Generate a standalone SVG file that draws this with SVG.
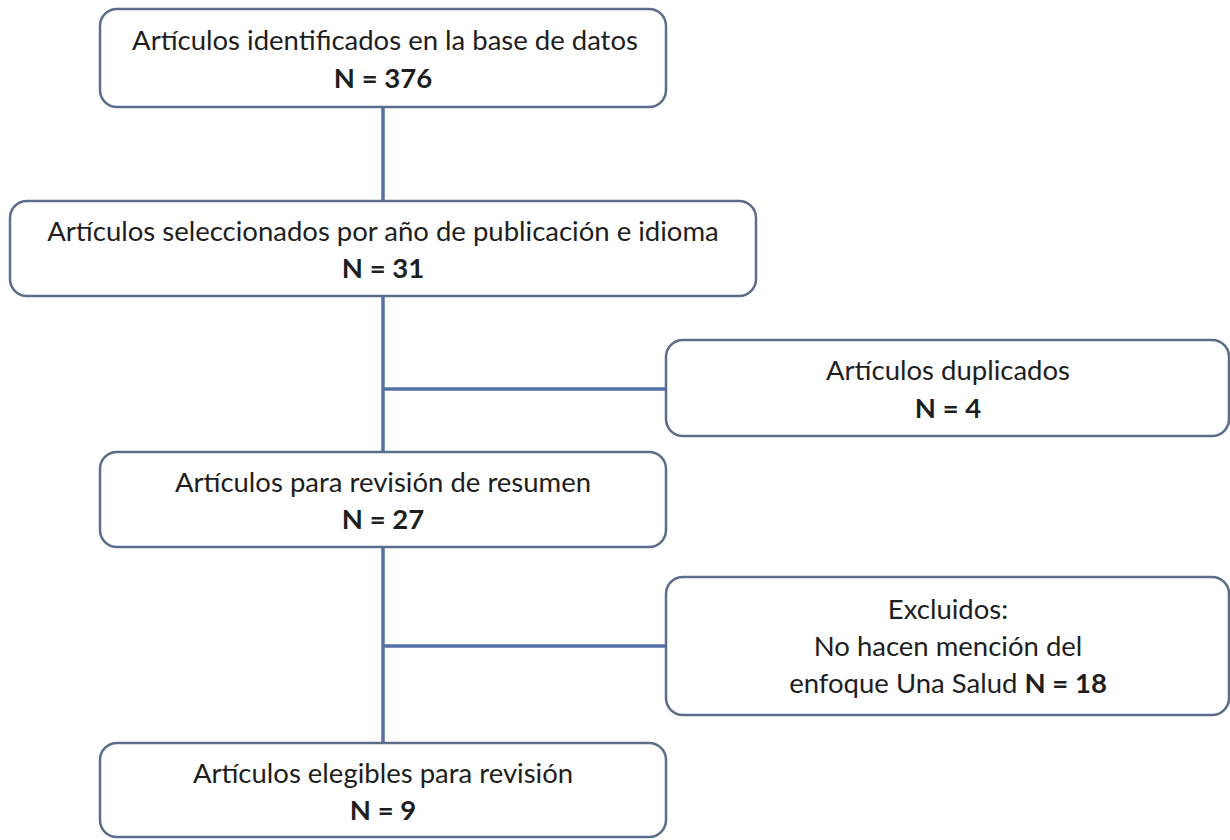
<svg xmlns="http://www.w3.org/2000/svg" width="1230" height="840" viewBox="0 0 1230 840">
<style>
.box{fill:#ffffff;stroke:#5b6d88;stroke-width:2.5}
.conn{stroke:#5470a6;stroke-width:3.5;fill:none}
text{font-family:Lato,"Open Sans","Liberation Sans",sans-serif;font-size:27.5px;fill:#1e1e1e;text-anchor:middle}
.b{font-weight:bold}
</style>
<rect width="1230" height="840" fill="#ffffff"/>
<g id="connectors">
<line class="conn" x1="383" y1="107" x2="383" y2="743"/>
<line class="conn" x1="383" y1="389" x2="666" y2="389"/>
<line class="conn" x1="383" y1="646" x2="666" y2="646"/>
</g>
<g id="n1">
<rect class="box" x="100" y="9" width="566" height="98" rx="17"/>
<text x="385" y="50">Artículos identificados en la base de datos</text>
<text x="383" y="88" class="b">N = 376</text>
</g>
<g id="n2">
<rect class="box" x="10" y="201" width="746" height="95" rx="17"/>
<text x="383" y="241">Artículos seleccionados por año de publicación e idioma</text>
<text x="383" y="278" class="b">N = 31</text>
</g>
<g id="n3">
<rect class="box" x="666" y="340" width="563" height="96" rx="17"/>
<text x="948" y="380">Artículos duplicados</text>
<text x="948" y="418" class="b">N = 4</text>
</g>
<g id="n4">
<rect class="box" x="100" y="452" width="566" height="95" rx="17"/>
<text x="383" y="492">Artículos para revisión de resumen</text>
<text x="383" y="529" class="b">N = 27</text>
</g>
<g id="n5">
<rect class="box" x="666" y="577" width="563" height="138" rx="17"/>
<text x="948" y="619">Excluidos:</text>
<text x="948" y="656">No hacen mención del</text>
<text x="948" y="693">enfoque Una Salud <tspan class="b">N = 18</tspan></text>
</g>
<g id="n6">
<rect class="box" x="100" y="743" width="566" height="94" rx="17"/>
<text x="383" y="783">Artículos elegibles para revisión</text>
<text x="383" y="820" class="b">N = 9</text>
</g>
</svg>
